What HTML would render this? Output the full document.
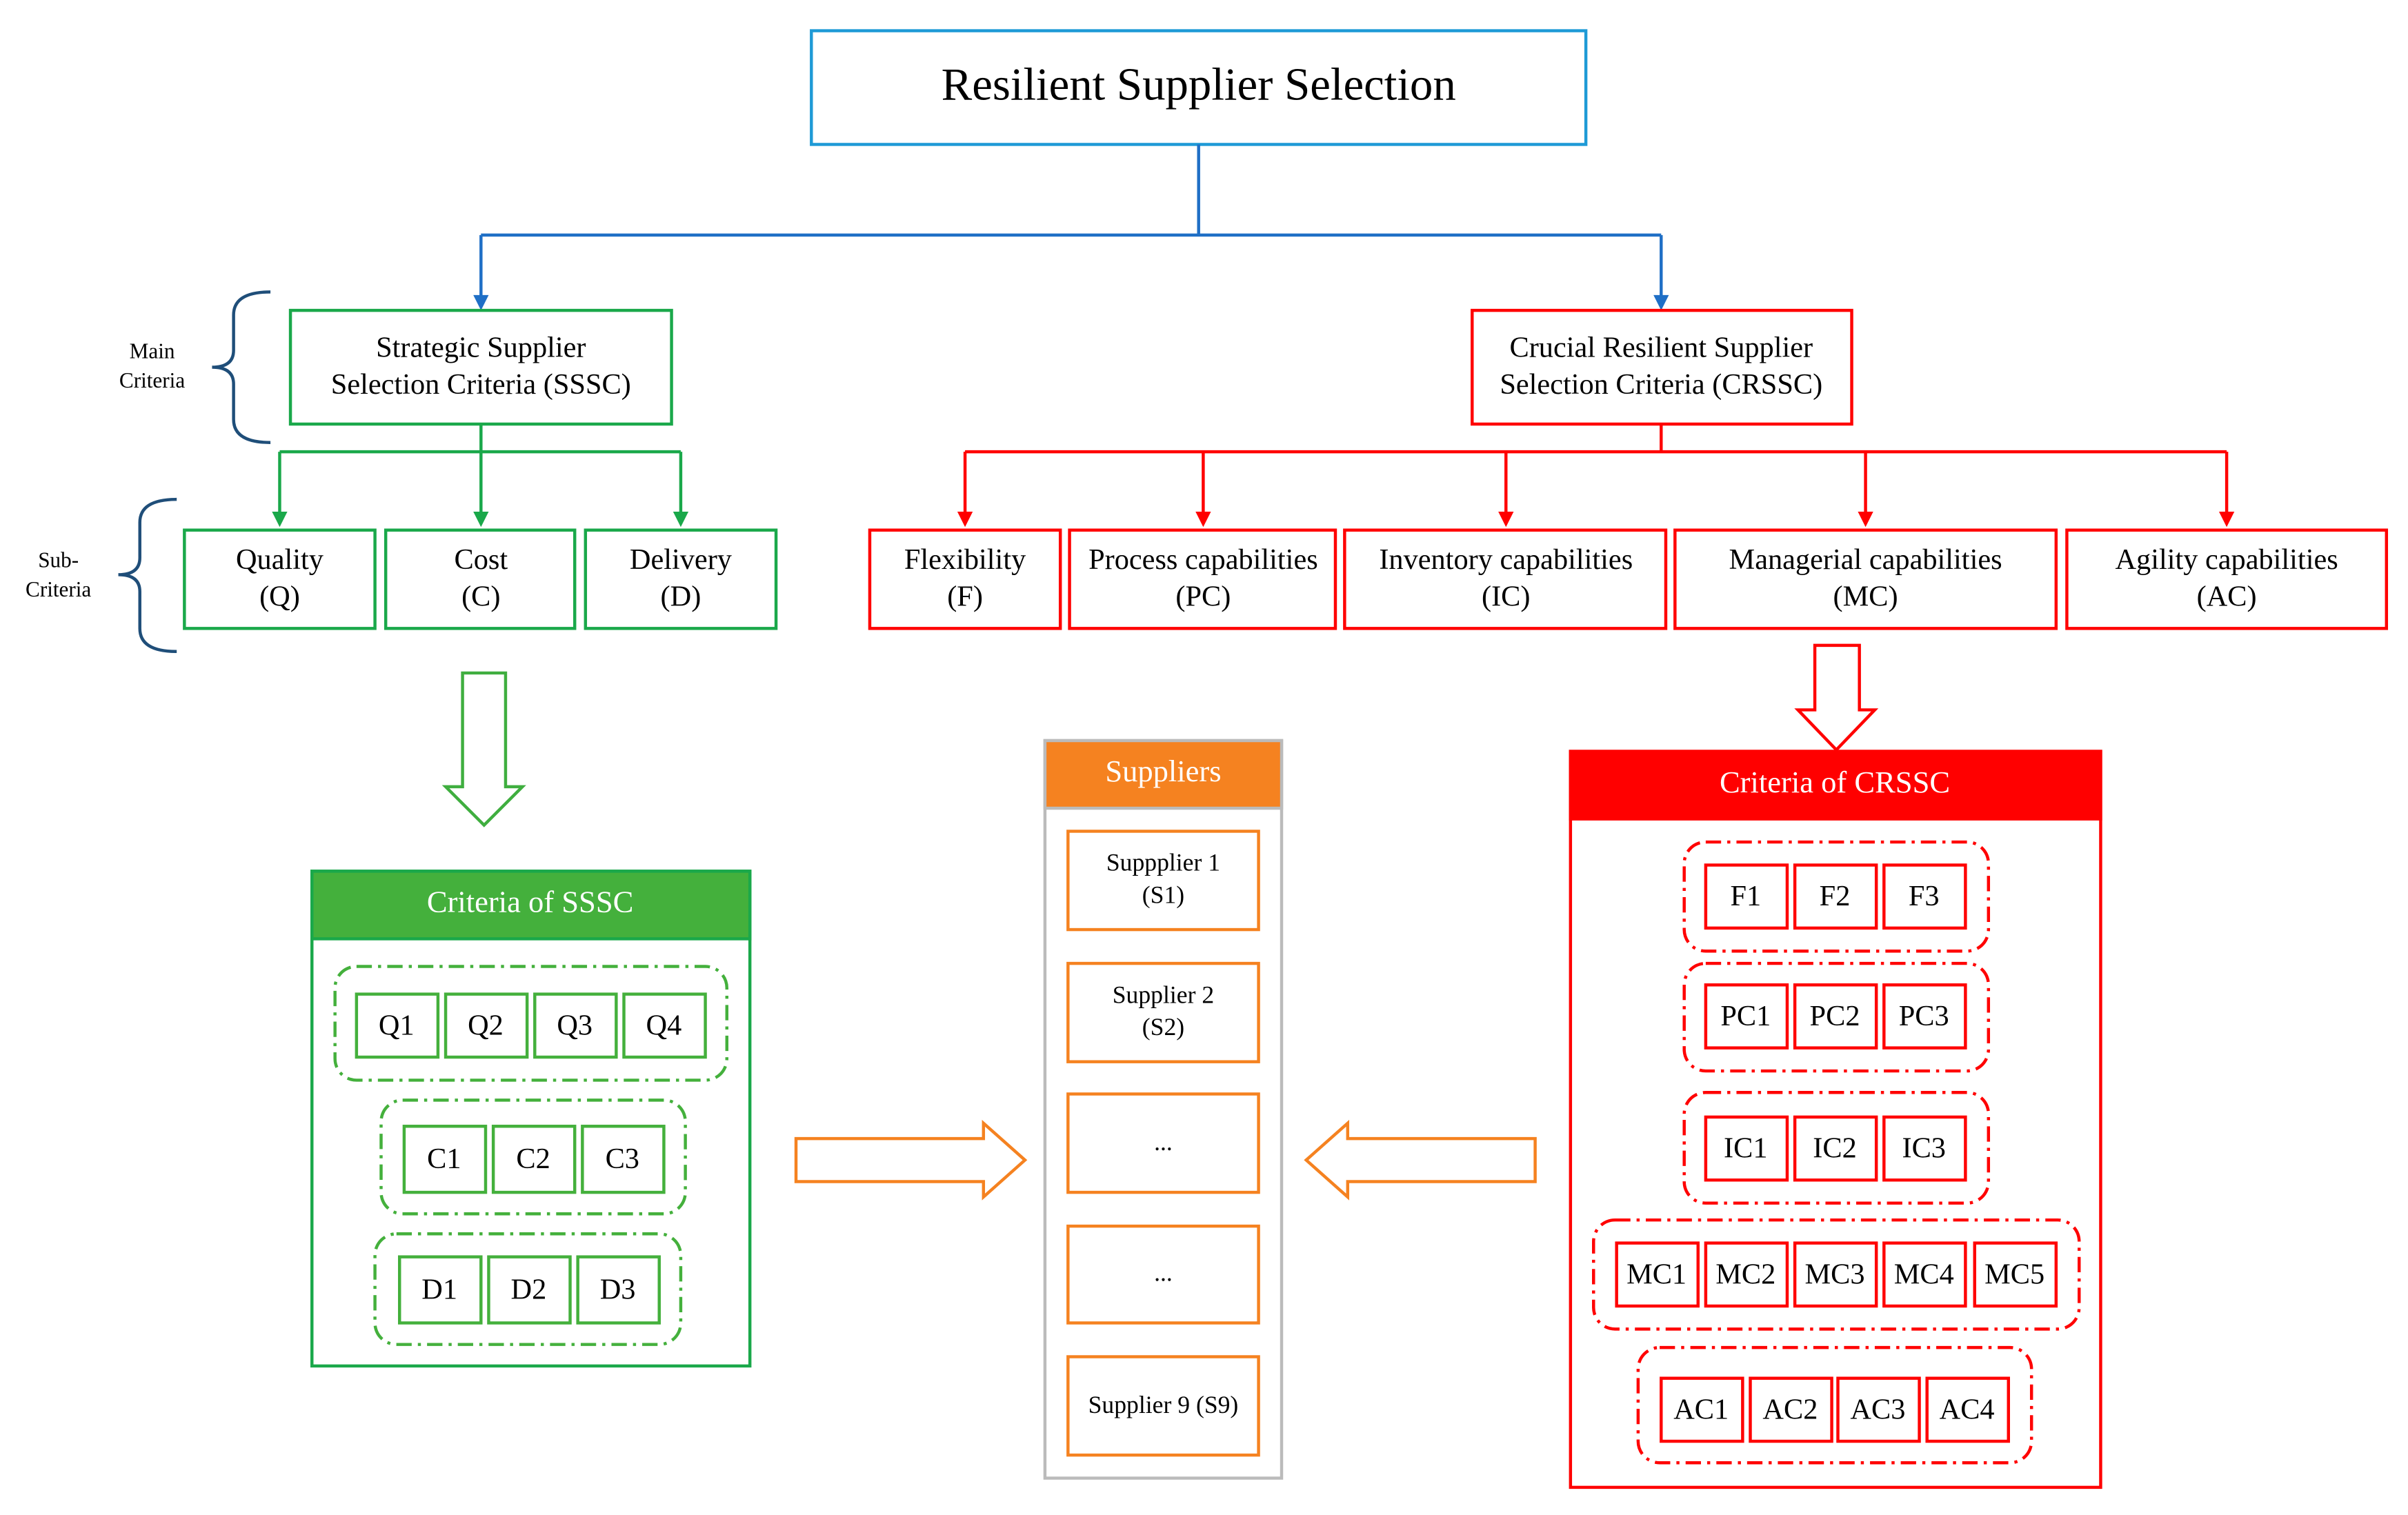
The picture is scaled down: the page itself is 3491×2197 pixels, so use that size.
<!DOCTYPE html>
<html><head><meta charset="utf-8"><style>html,body{margin:0;padding:0;background:#fff}svg{display:block}text{font-family:"Liberation Serif",serif;text-anchor:middle;dominant-baseline:middle}</style></head><body>
<svg width="3491" height="2197" viewBox="0 0 1567 986" preserveAspectRatio="none" xmlns="http://www.w3.org/2000/svg">
<g fill="none" stroke-width="2">
<rect x="528" y="20" width="504" height="74" stroke="#1e9ad6"/>
<path d="M780,94 V153 M313,153 H1081 M313,153 V194 M1081,153 V194" stroke="#1f6fc6"/>
<path d="M308,192 L318,192 L313,202 z M1076,192 L1086,192 L1081,202 z" fill="#1f6fc6" stroke="none"/>
<rect x="189" y="202" width="248" height="74" stroke="#1aa84a"/>
<rect x="958" y="202" width="247" height="74" stroke="#f00"/>
<path d="M313,276 V294 M182,294 H443 M182,294 V335 M313,294 V335 M443,294 V335" stroke="#1aa84a"/>
<path d="M177,333 L187,333 L182,343 z M308,333 L318,333 L313,343 z M438,333 L448,333 L443,343 z" fill="#1aa84a" stroke="none"/>
<rect x="120" y="345" width="124" height="64" stroke="#1aa84a"/>
<rect x="251" y="345" width="123" height="64" stroke="#1aa84a"/>
<rect x="381" y="345" width="124" height="64" stroke="#1aa84a"/>
<path d="M1081,276 V294 M628,294 H1449 M628,294 V335 M783,294 V335 M980,294 V335 M1214,294 V335 M1449,294 V335" stroke="#f00"/>
<path d="M623,333 L633,333 L628,343 z M778,333 L788,333 L783,343 z M975,333 L985,333 L980,343 z M1209,333 L1219,333 L1214,343 z M1444,333 L1454,333 L1449,343 z" fill="#f00" stroke="none"/>
<rect x="566" y="345" width="124" height="64" stroke="#f00"/>
<rect x="696" y="345" width="173" height="64" stroke="#f00"/>
<rect x="875" y="345" width="209" height="64" stroke="#f00"/>
<rect x="1090" y="345" width="248" height="64" stroke="#f00"/>
<rect x="1345" y="345" width="208" height="64" stroke="#f00"/>
<path d="M176,190 Q152,190 152,205 V228 Q152,239 138,239 Q152,239 152,250 V273 Q152,288 176,288" stroke="#1f4e79"/>
<path d="M115,325 Q91,325 91,340 V363 Q91,374 77,374 Q91,374 91,385 V409 Q91,424 115,424" stroke="#1f4e79"/>
<path d="M301,438 H329 V512 H340 L315,537 L290,512 H301 Z" stroke="#3fae3f"/>
<rect x="203" y="567" width="285" height="322" stroke="#1aa84a"/>
<rect x="203" y="567" width="285" height="44" fill="#44b03c" stroke="#1aa84a"/>
<g stroke="#44b03c" stroke-dasharray="10,4,2,4">
<rect x="218" y="629" width="255" height="74" rx="14"/>
<rect x="248" y="716" width="198" height="74" rx="14"/>
<rect x="244" y="803" width="199" height="72" rx="14"/>
</g>
<g stroke="#44b03c">
<rect x="232" y="647" width="53" height="41"/><rect x="290" y="647" width="53" height="41"/><rect x="348" y="647" width="53" height="41"/><rect x="406" y="647" width="53" height="41"/>
<rect x="263" y="733" width="53" height="43"/><rect x="321" y="733" width="53" height="43"/><rect x="379" y="733" width="53" height="43"/>
<rect x="260" y="818" width="53" height="43"/><rect x="318" y="818" width="53" height="43"/><rect x="376" y="818" width="53" height="43"/>
</g>
<rect x="680" y="482" width="154" height="480" stroke="#bbb"/>
<rect x="680" y="482" width="154" height="44" fill="#f58220" stroke="#bbb"/>
<g stroke="#f58220">
<rect x="695" y="541" width="124" height="64"/><rect x="695" y="627" width="124" height="64"/><rect x="695" y="712" width="124" height="64"/><rect x="695" y="798" width="124" height="63"/><rect x="695" y="883" width="124" height="64"/>
<path d="M518,741 H640 V731 L667,755 L640,779 V769 H518 Z"/>
<path d="M999,741 H877 V731 L850,755 L877,779 V769 H999 Z"/>
</g>
<path d="M1181,420 H1210 V462 H1220 L1195,488 L1170,462 H1181 Z" stroke="#f00"/>
<rect x="1022" y="489" width="345" height="479" stroke="#f00"/>
<rect x="1022" y="489" width="345" height="44" fill="#f00" stroke="#f00"/>
<g stroke="#f00" stroke-dasharray="10,4,2,4">
<rect x="1096" y="548" width="198" height="71" rx="14"/>
<rect x="1096" y="627" width="198" height="70" rx="14"/>
<rect x="1096" y="711" width="198" height="72" rx="14"/>
<rect x="1037" y="794" width="316" height="71" rx="14"/>
<rect x="1066" y="877" width="256" height="75" rx="14"/>
</g>
<g stroke="#f00">
<rect x="1110" y="563" width="53" height="41"/><rect x="1168" y="563" width="53" height="41"/><rect x="1226" y="563" width="53" height="41"/>
<rect x="1110" y="641" width="53" height="41"/><rect x="1168" y="641" width="53" height="41"/><rect x="1226" y="641" width="53" height="41"/>
<rect x="1110" y="727" width="53" height="41"/><rect x="1168" y="727" width="53" height="41"/><rect x="1226" y="727" width="53" height="41"/>
<rect x="1052" y="809" width="53" height="41"/><rect x="1110" y="809" width="53" height="41"/><rect x="1168" y="809" width="53" height="41"/><rect x="1226" y="809" width="53" height="41"/><rect x="1285" y="809" width="53" height="41"/>
<rect x="1081" y="897" width="53" height="41"/><rect x="1139" y="897" width="53" height="41"/><rect x="1196" y="897" width="53" height="41"/><rect x="1254" y="897" width="53" height="41"/>
</g>
</g>
<g fill="#000">
<text x="780" y="58" font-size="30">Resilient Supplier Selection</text>
<text x="313" y="228" font-size="19">Strategic Supplier</text>
<text x="313" y="252" font-size="19">Selection Criteria (SSSC)</text>
<text x="1081" y="228" font-size="19">Crucial Resilient Supplier</text>
<text x="1081" y="252" font-size="19">Selection Criteria (CRSSC)</text>
<text x="99" y="230" font-size="14">Main</text><text x="99" y="249" font-size="14">Criteria</text>
<text x="38" y="366" font-size="14">Sub-</text><text x="38" y="385" font-size="14">Criteria</text>
<g font-size="19">
<text x="182" y="366">Quality</text><text x="182" y="390">(Q)</text>
<text x="313" y="366">Cost</text><text x="313" y="390">(C)</text>
<text x="443" y="366">Delivery</text><text x="443" y="390">(D)</text>
<text x="628" y="366">Flexibility</text><text x="628" y="390">(F)</text>
<text x="783" y="366">Process capabilities</text><text x="783" y="390">(PC)</text>
<text x="980" y="366">Inventory capabilities</text><text x="980" y="390">(IC)</text>
<text x="1214" y="366">Managerial capabilities</text><text x="1214" y="390">(MC)</text>
<text x="1449" y="366">Agility capabilities</text><text x="1449" y="390">(AC)</text>
<text x="258" y="669">Q1</text><text x="316" y="669">Q2</text><text x="374" y="669">Q3</text><text x="432" y="669">Q4</text>
<text x="289" y="756">C1</text><text x="347" y="756">C2</text><text x="405" y="756">C3</text>
<text x="286" y="841">D1</text><text x="344" y="841">D2</text><text x="402" y="841">D3</text>
<text x="1136" y="585">F1</text><text x="1194" y="585">F2</text><text x="1252" y="585">F3</text>
<text x="1136" y="663">PC1</text><text x="1194" y="663">PC2</text><text x="1252" y="663">PC3</text>
<text x="1136" y="749">IC1</text><text x="1194" y="749">IC2</text><text x="1252" y="749">IC3</text>
<text x="1078" y="831">MC1</text><text x="1136" y="831">MC2</text><text x="1194" y="831">MC3</text><text x="1252" y="831">MC4</text><text x="1311" y="831">MC5</text>
<text x="1107" y="919">AC1</text><text x="1165" y="919">AC2</text><text x="1222" y="919">AC3</text><text x="1280" y="919">AC4</text>
</g>
<g font-size="16">
<text x="757" y="563">Suppplier 1</text><text x="757" y="584">(S1)</text>
<text x="757" y="649">Supplier 2</text><text x="757" y="670">(S2)</text>
<text x="757" y="745">...</text><text x="757" y="830">...</text>
<text x="757" y="916">Supplier 9 (S9)</text>
</g>
</g>
<g fill="#fff" font-size="20">
<text x="345" y="589">Criteria of SSSC</text>
<text x="757" y="504">Suppliers</text>
<text x="1194" y="511">Criteria of CRSSC</text>
</g>
</svg>
</body></html>
